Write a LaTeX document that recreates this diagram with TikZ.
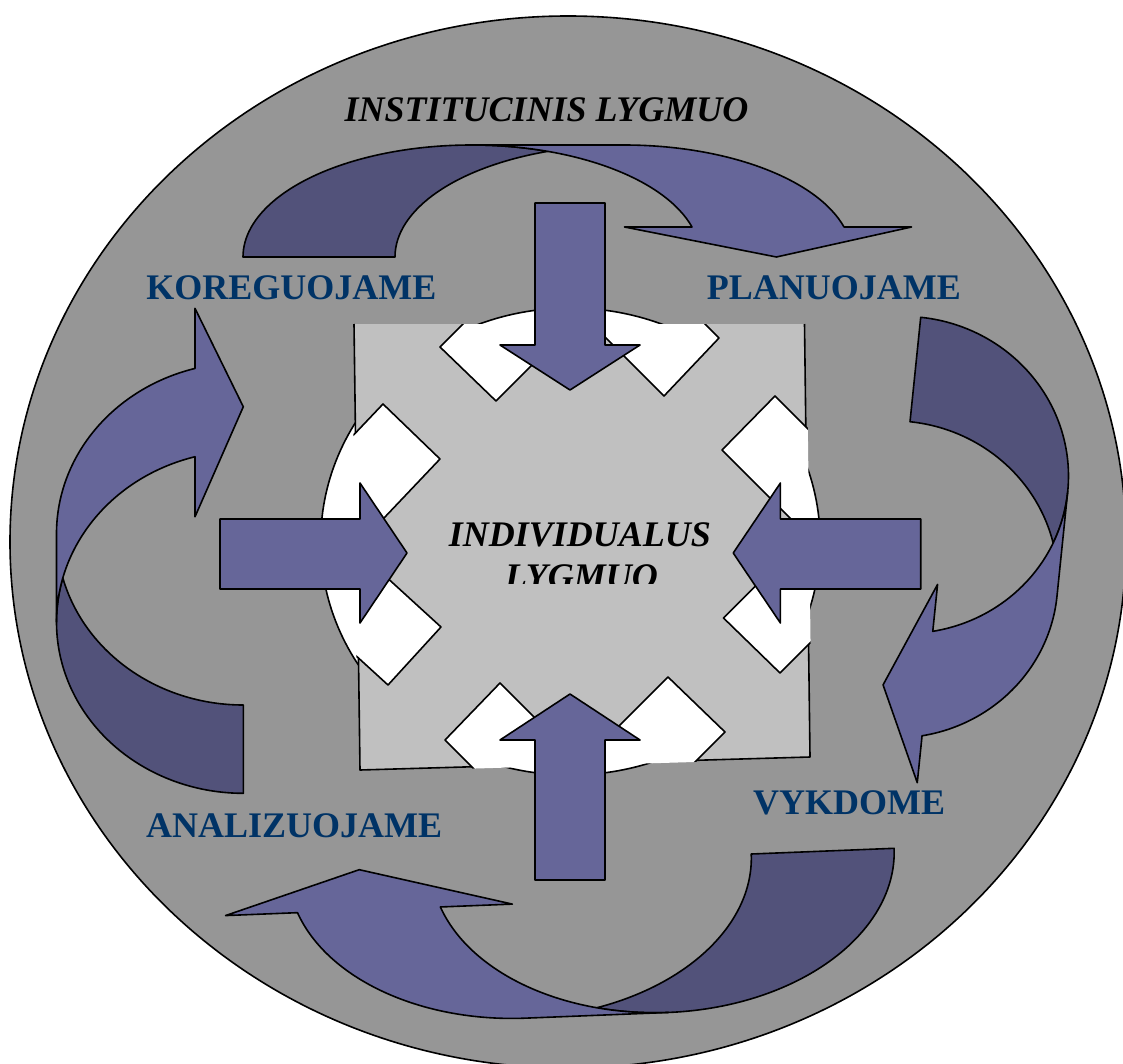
\documentclass[tikz,border=0pt]{standalone}
\usepackage{fontspec}
\setmainfont{Liberation Serif}
\definecolor{ringgray}{HTML}{969696}
\definecolor{coregray}{HTML}{C0C0C0}
\definecolor{bandfront}{HTML}{666699}
\definecolor{bandback}{HTML}{52527A}
\definecolor{labelblue}{HTML}{003366}

% Curved ribbon arrow: #1,#2 origin (outer corner of the tail), #3 rotation,
% #4 ellipse x radius, #5 ellipse y radius, #6 band thickness,
% #7 arrowhead width, #8 arrowhead height
\newcommand{\bentarrow}[8]{%
  \begin{scope}[shift={(#1,#2)},rotate=#3]
    \pgfmathsetmacro\bR{#4}%
    \pgfmathsetmacro\bH{#5}%
    \pgfmathsetmacro\bAh{#8}%
    \pgfmathsetmacro\bE{asin(#8/#5)}%
    \pgfmathsetmacro\bDx{#4*cos(\bE)}%
    \pgfmathsetmacro\bXa{#4+\bDx}%
    \pgfmathsetmacro\bXb{#4+#6+\bDx}%
    \pgfmathsetmacro\bDh{(#7-#6)/2}%
    \pgfmathsetmacro\bXc{\bXa-\bDh}%
    \pgfmathsetmacro\bXd{\bXb+\bDh}%
    \pgfmathsetmacro\bXt{2*#4+#6/2}%
    \pgfmathsetmacro\bXr{#4+#6}%
    \pgfmathsetmacro\bA{acos(#6/(2*#4))}%
    \pgfmathsetmacro\bB{180-\bA}%
    \path[backpart] (0pt,0pt)
      arc[start angle=180,end angle=\bA,x radius=\bR pt,y radius=\bH pt]
      arc[start angle=\bB,end angle=180,x radius=\bR pt,y radius=\bH pt]
      -- cycle;
    \path[frontpart] (\bXt pt,0pt) -- (\bXc pt,\bAh pt) -- (\bXa pt,\bAh pt)
      arc[start angle=\bE,end angle=90,x radius=\bR pt,y radius=\bH pt]
      -- (\bXr pt,\bH pt)
      arc[start angle=90,end angle=\bE,x radius=\bR pt,y radius=\bH pt]
      -- (\bXd pt,\bAh pt) -- cycle;
  \end{scope}}

\begin{document}
\begin{tikzpicture}[x=1pt,y=-1pt,
  edge/.style={draw=black,line width=1.6pt,line join=round},
  backpart/.style={edge,fill=bandback},
  frontpart/.style={edge,fill=bandfront},
  straightarrow/.style={edge,fill=bandfront},
  wedge/.style={edge,fill=white},
  stage/.style={font=\bfseries\fontsize{36}{41}\selectfont,text=labelblue,anchor=base,inner sep=0pt},
  level/.style={font=\bfseries\itshape\fontsize{36}{41}\selectfont,text=black,anchor=base,inner sep=0pt}]

\useasboundingbox (0,0) rectangle (1123,1064);

% institutional level ring
\path[edge,fill=ringgray] (568,542) ellipse [x radius=558pt, y radius=526pt];

% individual level core
\path[edge,fill=white] (570.4,541.5) ellipse [x radius=249.7pt, y radius=233.5pt];
\fill[coregray] (354,324) -- (804.5,324) -- (810,757) -- (360,770) -- cycle;
\draw[edge] (354,324) -- (360,770) -- (810,757) -- (804.5,324);

% white notches round the core (their far ends hide under the arrows)
\begin{scope}
  \clip (352,324) -- (806.5,324) -- (812,758.5) -- (358,772) -- cycle;
  \path[wedge] (440,347) -- (496,401) -- (596,301) -- (540,247) -- cycle;
  \path[wedge] (719,338) -- (664,396) -- (564,296) -- (619,238) -- cycle;
  \path[wedge] (383,404) -- (440,459) -- (328,577) -- (271,522) -- cycle;
  \path[wedge] (441,627) -- (388,685) -- (272,579) -- (325,521) -- cycle;
  \path[wedge] (445,740) -- (500,683) -- (600,783) -- (545,840) -- cycle;
  \path[wedge] (668,677) -- (725,732) -- (625,832) -- (568,777) -- cycle;
  \path[wedge] (722,450) -- (775,396) -- (895,516) -- (842,570) -- cycle;
  \path[wedge] (723.5,618) -- (780,673) -- (900,553) -- (843.5,498) -- cycle;
\end{scope}

% core caption, cut at the bottom of its box
\begin{scope}
  \clip (400,480) rectangle (760,583.5);
  \node[level] (core1) at (580,546.7) {INDIVIDUALUS};
  \node[level] (core2) at (581.5,588) {LYGMUO};
\end{scope}

% four straight arrows pointing into the core
\path[straightarrow] (535,203) -- (605,203) -- (605,345) -- (640,345) -- (570,390) -- (500,345) -- (535,345) -- cycle;
\path[straightarrow] (535,880) -- (605,880) -- (605,740) -- (640,740) -- (570,694) -- (500,740) -- (535,740) -- cycle;
\path[straightarrow] (220,519) -- (360,519) -- (360,483) -- (407,553) -- (360,623) -- (360,589) -- (220,589) -- cycle;
\path[straightarrow] (920.7,519) -- (780.4,519) -- (780.4,483) -- (733.2,553) -- (780.4,623) -- (780.4,589) -- (920.7,589) -- cycle;

% cycle of curved arrows
\bentarrow{243}{257}{0}{228.7}{112}{152}{287}{30}
\bentarrow{920.7}{317.3}{-95.85}{158.5}{164}{105}{199.3}{44}
\bentarrow{894.1}{848.3}{182.29}{231.9}{155}{143}{287}{40.5}
\bentarrow{243.3}{793.3}{90}{171.2}{186.8}{88.3}{208.4}{48.3}

% captions
\node[level] (inst) at (546.5,121.7) {INSTITUCINIS LYGMUO};
\node[stage] (plan) at (833.8,299.3) {PLANUOJAME};
\node[stage] (act) at (849.2,814) {VYKDOME};
\node[stage] (anal) at (294.2,837.3) {ANALIZUOJAME};
\node[stage] (corr) at (291.3,299.3) {KOREGUOJAME};
\end{tikzpicture}
\end{document}
